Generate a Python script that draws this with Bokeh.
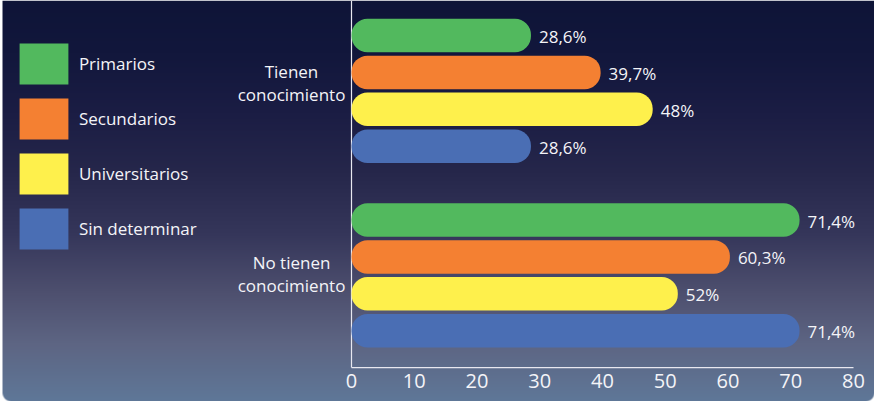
import numpy as np
from bokeh.plotting import figure
from bokeh.models import Range1d, LinearAxis, FixedTicker, Legend, LegendItem, ColumnDataSource
from bokeh.core.properties import value
from bokeh.embed import file_html
from bokeh.resources import INLINE

# ---------------- data ----------------
groups = ["Tienen\nconocimiento", "No tienen\nconocimiento"]
levels = ["Primarios", "Secundarios", "Universitarios", "Sin determinar"]
primarios = [28.6, 71.4]
secundarios = [39.7, 60.3]
universitarios = [48, 52]
sin_determinar = [28.6, 71.4]
x_ticks = [0, 10, 20, 30, 40, 50, 60, 70, 80]

# ---------------- style ----------------
colors = ["#52b95e", "#f48032", "#fef04c", "#4a6eb4"]
FONT = "Open Sans"
TXT = "#f4f4f8"

W, H = 874, 401
PX_PER_X = 502 / 80.0
X0_PX = 351.0
SLOT_PX = 36.9
SLOT0_PX = 35.0
x_start = -X0_PX / PX_PER_X
x_end = (W - X0_PX) / PX_PER_X
y_end = SLOT0_PX / SLOT_PX
y_start = -(H - SLOT0_PX) / SLOT_PX

p = figure(width=W, height=H, output_backend="svg", toolbar_location=None,
           x_range=Range1d(x_start, x_end), y_range=Range1d(y_start, y_end),
           x_axis_location=None, y_axis_location=None, min_border=0,
           min_border_left=0, min_border_right=0, min_border_top=0, min_border_bottom=0,
           background_fill_color="white", border_fill_color="white",
           outline_line_color=None)
p.grid.visible = False

# ---------------- gradient panel background ----------------
def hex_rgb(h):
    h = h.lstrip("#")
    return [int(h[i:i + 2], 16) for i in (0, 2, 4)]

stops_y = [0, 60, 120, 180, 240, 300, 350, 416]
stops_c = ["#0e1437", "#12173c", "#1b1d44", "#26274b", "#35365a", "#4e506f", "#5d6583", "#5f7a9b"]
rgb = np.array([hex_rgb(c) for c in stops_c], dtype=float)
page_rows = np.arange(H) + 8.0
img = np.zeros((H, W), dtype=np.uint32)
view = img.view(dtype=np.uint8).reshape((H, W, 4))
for ch in range(3):
    view[..., ch] = np.interp(page_rows, stops_y, rgb[:, ch])[:, None].astype(np.uint8)
yy, xx = np.mgrid[0:H, 0:W].astype(float)
yy += 0.5
xx += 0.5
alpha = np.ones((H, W))
left_edge = 2.0
alpha[xx < left_edge] = 0.0
rad = 9.0
cx, cy = left_edge + rad, H - rad
m = (xx < cx) & (yy > cy)
d = np.sqrt((xx - cx) ** 2 + (yy - cy) ** 2)
alpha[m] = np.clip(rad - d[m] + 0.5, 0, 1) * (xx[m] >= left_edge)
cx2 = W - rad
m2 = (xx > cx2) & (yy > cy)
d2 = np.sqrt((xx - cx2) ** 2 + (yy - cy) ** 2)
alpha[m2] = np.clip(rad - d2[m2] + 0.5, 0, 1)
view[..., 3] = (alpha * 255).astype(np.uint8)
img = np.flipud(img).copy()
p.image_rgba(image=[img], x=x_start, y=y_start, dw=x_end - x_start, dh=y_end - y_start)

# ---------------- axes lines ----------------
axis_y = -(len(groups) * 5 - 1)
p.segment(x0=[x_ticks[0]], y0=[axis_y], x1=[x_ticks[-1]], y1=[axis_y], line_color="#e8e8f0", line_width=1.2)
p.segment(x0=[0], y0=[axis_y], x1=[0], y1=[y_end], line_color="#e8e8f0", line_width=1.2)

xaxis = LinearAxis(fixed_location=axis_y, ticker=FixedTicker(ticks=x_ticks))
xaxis.axis_line_color = None
xaxis.major_tick_line_color = None
xaxis.minor_tick_line_color = None
xaxis.major_label_text_font = FONT
xaxis.major_label_text_font_size = "20px"
xaxis.major_label_text_color = TXT
xaxis.major_label_standoff = 0
p.add_layout(xaxis, "below")

# ---------------- bars ----------------
def fmt(v):
    return ("%g" % v).replace(".", ",") + "%"

series = [primarios, secundarios, universitarios, sin_determinar]
renderers = []
for k, (vals, col) in enumerate(zip(series, colors)):
    ys = [-(g * 5 + k) for g in range(len(groups))]
    src = ColumnDataSource(dict(y=ys, right=vals, label=[fmt(v) for v in vals]))
    r = p.hbar(y="y", left=0, right="right", height=0.908, source=src,
               fill_color=col, line_color=None, border_radius=16)
    p.text(x="right", y="y", text="label", source=src, x_offset=8, y_offset=1,
           text_baseline="middle", text_align="left", text_font=value(FONT),
           text_font_size="17px", text_color=TXT)
    renderers.append(r)

# ---------------- group labels ----------------
gsrc = ColumnDataSource(dict(
    x=[0] * len(groups),
    y=[-(g * 5 + 1.5) for g in range(len(groups))],
    text=groups,
    yoff=[-8, -1],
))
p.text(x="x", y="y", text="text", source=gsrc, x_offset=-60, y_offset="yoff",
       text_align="center", text_baseline="middle", text_font=value(FONT),
       text_font_size="17px", text_color=TXT, text_line_height=1.0)

# ---------------- legend ----------------
legend = Legend(items=[LegendItem(label=l, renderers=[r]) for l, r in zip(levels, renderers)],
                location=(12.9, 146.6), glyph_width=61, glyph_height=51, spacing=4,
                padding=0, margin=0, label_standoff=5,
                label_text_font=FONT, label_text_font_size="17px", label_text_color=TXT,
                background_fill_alpha=0, border_line_alpha=0)
p.add_layout(legend)

open("out.html", "w").write(file_html(p, INLINE))
